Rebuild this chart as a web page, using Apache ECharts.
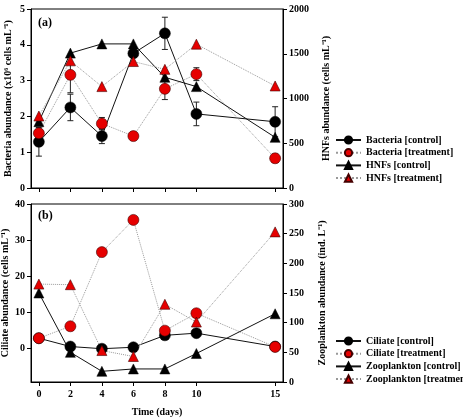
<!DOCTYPE html>
<html>
<head>
<meta charset="utf-8">
<title>Bacteria, HNFs, ciliate and zooplankton</title>
<script src="https://cdn.jsdelivr.net/npm/echarts@6/dist/echarts.min.js"></script>
<style>
  html, body { margin: 0; padding: 0; background: #fff; }
  #main { width: 463px; height: 419px; }
</style>
</head>
<body>
<div id="main"></div>
<script type="text/javascript">
  // days sampled
  var days = [0, 2, 4, 6, 8, 10, 15];
  var dayTicks = [0, 2, 4, 6, 8, 10, 15];

  // (a) bacteria x10^6 cells/mL (left), HNFs cells/mL (right)
  var bacCtrl    = [1.29, 2.25, 1.45, 3.76, 4.32, 2.07, 1.85];
  var bacCtrlErr = [0.40, 0.37, 0.21, 0.10, 0.45, 0.33, 0.42];
  var bacTrt     = [1.53, 3.16, 1.80, 1.45, 2.77, 3.18, 0.83];
  var bacTrtErr  = [0.15, 0.50, 0.17, 0.12, 0.30, 0.18, 0.12];
  var hnfCtrl    = [741, 1507, 1610, 1610, 1237, 1133, 566];
  var hnfTrt     = [804, 1421, 1133, 1413, 1326, 1607, 1140];

  // (b) ciliate cells/mL (left), zooplankton ind/L (right)
  var cilCtrl  = [2.9, 0.6, 0.0, 0.4, 3.7, 4.3, 0.6];
  var cilTrt   = [2.9, 6.2, 26.7, 35.6, 5.0, 9.8, 0.5];
  var zooCtrl  = [150, 50, 18, 22, 22, 48, 115];
  var zooTrt   = [165, 164, 53, 43, 131, 101, 253];

  var leftTicksB  = [0, 10, 20, 30, 40];

  var FONT = 'Liberation Serif';
  var RED = '#e60000';

  function pairs(ys) {
    return days.map(function (d, i) { return [d, ys[i]]; });
  }
  function errs(ys, es) {
    return days.map(function (d, i) { return [d, ys[i] - es[i], ys[i] + es[i]]; });
  }

  function errBar(xi, yi, data) {
    return {
      type: 'custom',
      xAxisIndex: xi,
      yAxisIndex: yi,
      z: 1,
      silent: true,
      encode: { x: 0, y: [1, 2] },
      data: data,
      renderItem: function (params, api) {
        var lo = api.coord([api.value(0), api.value(1)]);
        var hi = api.coord([api.value(0), api.value(2)]);
        var st = { stroke: '#222', lineWidth: 1 };
        return {
          type: 'group',
          children: [
            { type: 'line', shape: { x1: lo[0], y1: lo[1], x2: hi[0], y2: hi[1] }, style: st },
            { type: 'line', shape: { x1: lo[0] - 3, y1: lo[1], x2: lo[0] + 3, y2: lo[1] }, style: st },
            { type: 'line', shape: { x1: hi[0] - 3, y1: hi[1], x2: hi[0] + 3, y2: hi[1] }, style: st }
          ]
        };
      }
    };
  }

  function lineSeries(name, xi, yi, ys, ctrl, symbol) {
    return {
      name: name,
      type: 'line',
      xAxisIndex: xi,
      yAxisIndex: yi,
      z: 3,
      symbol: symbol,
      symbolSize: symbol == 'circle' ? 11 : 10,
      data: pairs(ys),
      lineStyle: ctrl ? { color: '#111', width: 1, type: 'solid' }
                      : { color: '#999', width: 1, type: 'dotted' },
      itemStyle: ctrl ? { color: '#000', borderColor: '#000', borderWidth: 0.5 }
                      : { color: RED, borderColor: '#400', borderWidth: 0.6 },
      emphasis: { disabled: true },
      animation: false
    };
  }

  var labelStyle = { fontFamily: FONT, fontWeight: 'bold', fontSize: 10, color: '#000' };
  var nameStyle  = { fontFamily: FONT, fontWeight: 'bold', fontSize: 10, color: '#000' };
  var axLine = { show: true, onZero: false, lineStyle: { color: '#000' } };
  var plain = function (v) { return String(v); };

  var myChart = echarts.init(document.getElementById('main'));

  var option = {
    animation: false,
    grid: [
      { left: 31, top: 9, width: 252, height: 179, outerBoundsMode: 'none', containLabel: false,
        show: true, borderColor: '#000', borderWidth: 1 },
      { left: 31, top: 204, width: 252, height: 178, outerBoundsMode: 'none', containLabel: false,
        show: true, borderColor: '#000', borderWidth: 1 }
    ],
    xAxis: [
      {
        gridIndex: 0, type: 'value', min: -0.5, max: 15.5,
        axisLine: axLine,
        axisTick: { show: true, length: 4, customValues: dayTicks, lineStyle: { color: '#000' } },
        axisLabel: { show: false },
        splitLine: { show: false }
      },
      {
        gridIndex: 1, type: 'value', min: -0.5, max: 15.5,
        name: 'Time (days)', nameLocation: 'middle', nameGap: 25, nameTextStyle: nameStyle,
        nameMoveOverlap: false,
        axisLine: axLine,
        axisTick: { show: true, length: 4, customValues: dayTicks, lineStyle: { color: '#000' } },
        axisLabel: Object.assign({ customValues: dayTicks, margin: 7 }, labelStyle),
        splitLine: { show: false }
      }
    ],
    yAxis: [
      {
        gridIndex: 0, type: 'value', min: 0, max: 5, interval: 1,
        name: 'Bacteria abundance (x10\u2076 cells mL\u207B\u00B9)', nameLocation: 'middle', nameGap: 18,
        nameTextStyle: nameStyle, nameMoveOverlap: false,
        axisLine: axLine,
        axisTick: { show: true, length: 4, lineStyle: { color: '#000' } },
        axisLabel: Object.assign({ margin: 6, formatter: plain }, labelStyle),
        splitLine: { show: false }
      },
      {
        gridIndex: 0, type: 'value', min: 0, max: 2000, interval: 500, position: 'right',
        name: 'HNFs abundance (cells mL\u207B\u00B9)', nameLocation: 'middle', nameGap: 38,
        nameTextStyle: nameStyle, nameMoveOverlap: false,
        axisLine: axLine,
        axisTick: { show: true, length: 4, lineStyle: { color: '#000' } },
        axisLabel: Object.assign({ margin: 6, formatter: plain }, labelStyle),
        splitLine: { show: false }
      },
      {
        gridIndex: 1, type: 'value', min: -9.2, max: 40,
        name: 'Ciliate abundance (cells mL\u207B\u00B9)', nameLocation: 'middle', nameGap: 21,
        nameTextStyle: nameStyle, nameMoveOverlap: false,
        axisLine: axLine,
        axisTick: { show: true, length: 4, customValues: leftTicksB, lineStyle: { color: '#000' } },
        axisLabel: Object.assign({ margin: 6, customValues: leftTicksB, formatter: plain }, labelStyle),
        splitLine: { show: false }
      },
      {
        gridIndex: 1, type: 'value', min: 0, max: 300, interval: 50, position: 'right',
        name: 'Zooplankton abundance (ind. L\u207B\u00B9)', nameLocation: 'middle', nameGap: 34,
        nameTextStyle: nameStyle, nameMoveOverlap: false,
        axisLine: axLine,
        axisTick: { show: true, length: 4, lineStyle: { color: '#000' } },
        axisLabel: Object.assign({ margin: 6, formatter: plain }, labelStyle),
        splitLine: { show: false }
      }
    ],
    legend: [
      {
        orient: 'vertical', left: 330, top: 130, itemWidth: 25, itemHeight: 9, itemGap: 2.7,
        textStyle: { fontFamily: FONT, fontWeight: 'bold', fontSize: 10, color: '#000' },
        data: ['Bacteria [control]', 'Bacteria [treatment]', 'HNFs [control]', 'HNFs [treatment]']
      },
      {
        orient: 'vertical', left: 330, top: 331, itemWidth: 25, itemHeight: 9, itemGap: 2.7,
        textStyle: { fontFamily: FONT, fontWeight: 'bold', fontSize: 10, color: '#000' },
        data: ['Ciliate [control]', 'Ciliate [treatment]', 'Zooplankton [control]', 'Zooplankton [treatment]']
      }
    ],
    graphic: [
      { type: 'text', left: 38, top: 17, style: { text: '(a)', font: 'bold 12px "Liberation Serif"', fill: '#000' } },
      { type: 'text', left: 38, top: 210, style: { text: '(b)', font: 'bold 12px "Liberation Serif"', fill: '#000' } }
    ],
    series: [
      errBar(0, 0, errs(bacCtrl, bacCtrlErr)),
      errBar(0, 0, errs(bacTrt, bacTrtErr)),
      lineSeries('Bacteria [control]', 0, 0, bacCtrl, true, 'circle'),
      lineSeries('Bacteria [treatment]', 0, 0, bacTrt, false, 'circle'),
      lineSeries('HNFs [control]', 0, 1, hnfCtrl, true, 'triangle'),
      lineSeries('HNFs [treatment]', 0, 1, hnfTrt, false, 'triangle'),
      lineSeries('Ciliate [control]', 1, 2, cilCtrl, true, 'circle'),
      lineSeries('Ciliate [treatment]', 1, 2, cilTrt, false, 'circle'),
      lineSeries('Zooplankton [control]', 1, 3, zooCtrl, true, 'triangle'),
      lineSeries('Zooplankton [treatment]', 1, 3, zooTrt, false, 'triangle')
    ]
  };

  myChart.setOption(option);
</script>
</body>
</html>
